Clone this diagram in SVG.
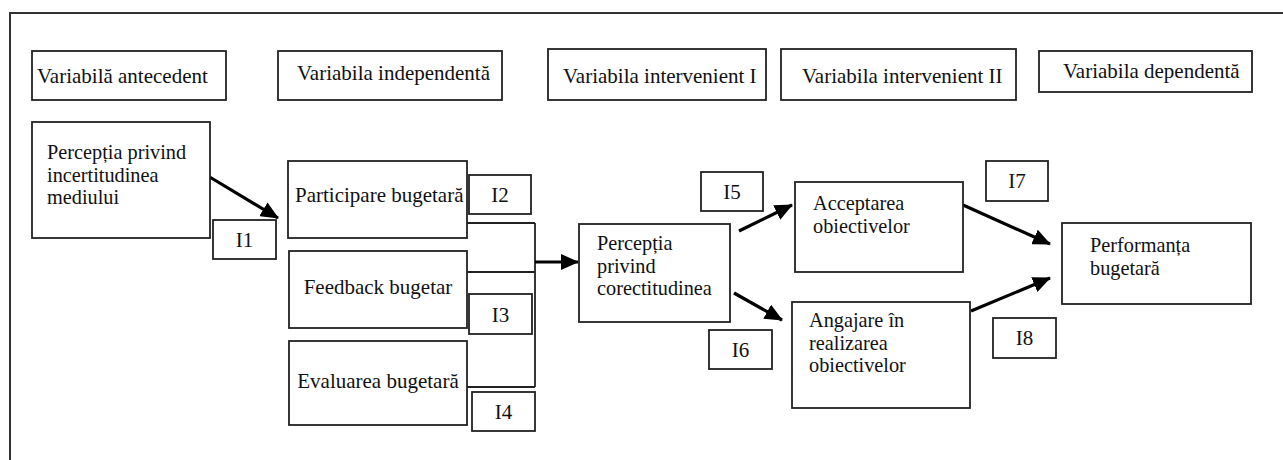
<svg xmlns="http://www.w3.org/2000/svg" width="1283" height="460" viewBox="0 0 1283 460">
<style>
text{font-family:"Liberation Serif",Tinos,"Times New Roman","Noto Serif","DejaVu Serif",serif;font-size:21px;fill:#111}
.s{font-size:20.3px}
.b{fill:#fff;stroke:#222;stroke-width:1.8}
.c{fill:none;stroke:#222;stroke-width:1.8}
.a{fill:none;stroke:#000;stroke-width:3.2}
.m{text-anchor:middle}
</style>
<defs>
<marker id="ah" markerUnits="userSpaceOnUse" markerWidth="18" markerHeight="16" refX="17" refY="8" orient="auto">
<path d="M0,0 L18,8 L0,16 z" fill="#000"/>
</marker>
</defs>
<rect x="0" y="0" width="1283" height="460" fill="#fff"/>
<rect id="frame" x="10" y="13" width="1290" height="470" fill="none" stroke="#333" stroke-width="2"/>

<g id="h1"><rect class="b" x="32" y="51" width="194" height="49"/><text x="37" y="83">Variabilă antecedent</text></g>
<g id="h2"><rect class="b" x="278" y="51" width="224" height="49"/><text x="297" y="80">Variabila independentă</text></g>
<g id="h3"><rect class="b" x="548" y="49" width="218" height="51"/><text x="563" y="83">Variabila intervenient I</text></g>
<g id="h4"><rect class="b" x="781" y="49" width="235" height="51"/><text x="802" y="83">Variabila intervenient II</text></g>
<g id="h5"><rect class="b" x="1039" y="51" width="213" height="41"/><text x="1063" y="78">Variabila dependentă</text></g>

<g id="connectors">
<path class="c" d="M467,223 H535 M467,272 H535 M467,387 H535 M535,223 V387"/>
<line class="a" x1="208" y1="176" x2="278" y2="218" marker-end="url(#ah)"/>
<line class="a" x1="535" y1="262" x2="578" y2="262" marker-end="url(#ah)"/>
<line class="a" x1="739" y1="231" x2="792" y2="205" marker-end="url(#ah)"/>
<line class="a" x1="734" y1="293" x2="782" y2="320" marker-end="url(#ah)"/>
<line class="a" x1="963" y1="205" x2="1050" y2="244" marker-end="url(#ah)"/>
<line class="a" x1="971" y1="311" x2="1050" y2="278" marker-end="url(#ah)"/>
</g>

<g id="n-incert"><rect class="b" x="32" y="122" width="178" height="116"/>
<text class="s" x="47" y="159">Percepția privind</text><text class="s" x="47" y="181.5">incertitudinea</text><text class="s" x="47" y="204">mediului</text></g>
<g id="n-part"><rect class="b" x="288" y="161" width="179" height="77"/><text x="295" y="202">Participare bugetară</text></g>
<g id="n-feed"><rect class="b" x="289" y="251" width="178" height="77"/><text class="m" x="378" y="294">Feedback bugetar</text></g>
<g id="n-eval"><rect class="b" x="289" y="341" width="178" height="84"/><text class="m" x="378" y="388">Evaluarea bugetară</text></g>
<g id="n-corect"><rect class="b" x="579" y="224" width="151" height="98"/>
<text class="s" x="597" y="250">Percepția</text><text class="s" x="597" y="272.5">privind</text><text class="s" x="597" y="295">corectitudinea</text></g>
<g id="n-accept"><rect class="b" x="795" y="182" width="168" height="90"/>
<text class="s" x="813" y="210">Acceptarea</text><text class="s" x="813" y="232.5">obiectivelor</text></g>
<g id="n-angaj"><rect class="b" x="792" y="302" width="178" height="106"/>
<text class="s" x="809" y="327">Angajare în</text><text class="s" x="809" y="349.5">realizarea</text><text class="s" x="809" y="372">obiectivelor</text></g>
<g id="n-perf"><rect class="b" x="1062" y="223" width="189" height="81"/>
<text class="s" x="1090" y="252">Performanța</text><text class="s" x="1090" y="274.5">bugetară</text></g>

<g id="i1"><rect class="b" x="213" y="220" width="63" height="39"/><text class="m" x="244.5" y="247">I1</text></g>
<g id="i2"><rect class="b" x="469" y="175" width="62" height="39"/><text class="m" x="500" y="202">I2</text></g>
<g id="i3"><rect class="b" x="469" y="294" width="63" height="40"/><text class="m" x="500.5" y="322">I3</text></g>
<g id="i4"><rect class="b" x="472" y="392" width="63" height="39"/><text class="m" x="503.5" y="419">I4</text></g>
<g id="i5"><rect class="b" x="701" y="172" width="62" height="39"/><text class="m" x="732" y="199">I5</text></g>
<g id="i6"><rect class="b" x="709" y="330" width="63" height="39"/><text class="m" x="740.5" y="357">I6</text></g>
<g id="i7"><rect class="b" x="986" y="161" width="62" height="40"/><text class="m" x="1017" y="188">I7</text></g>
<g id="i8"><rect class="b" x="993" y="318" width="63" height="40"/><text class="m" x="1024.5" y="345">I8</text></g>
</svg>
